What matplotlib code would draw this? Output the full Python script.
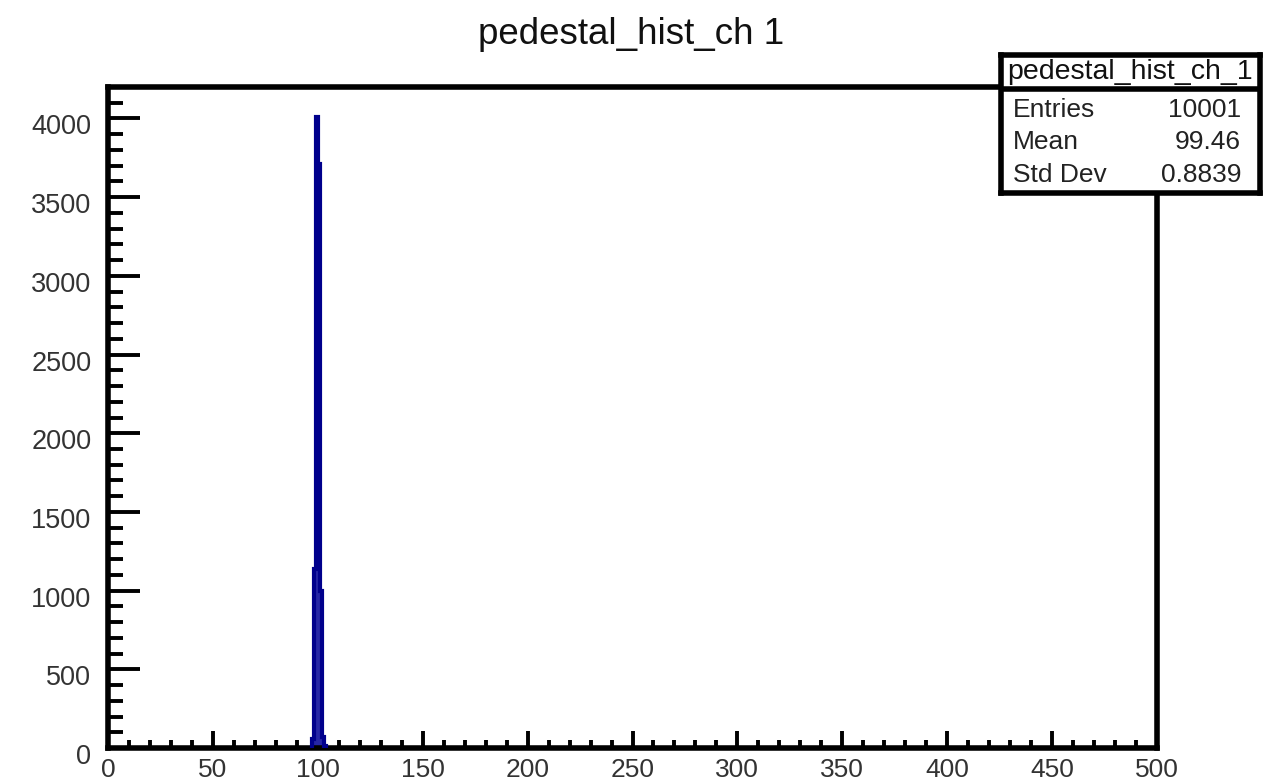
import numpy as np
import matplotlib
matplotlib.use("Agg")
import matplotlib.pyplot as plt
import matplotlib.transforms as mtransforms
from matplotlib.ticker import MultipleLocator

# ---- data ----
bin_low = np.array([97, 98, 99, 100, 101, 102, 103])
counts = np.array([60, 1140, 4010, 3710, 1000, 70, 11])
bin_width = 1
title = "pedestal_hist_ch 1"
stats_name = "pedestal_hist_ch_1"
stats_labels = ["Entries", "Mean", "Std Dev"]
stats_values = ["10001", "99.46", "0.8839"]
x_range = (0, 500)
y_max = 4200

plt.rcParams['font.family'] = ['Liberation Sans', 'DejaVu Sans']

W, H = 1266, 783
fig = plt.figure(figsize=(W / 100, H / 100), dpi=100)

def px_rect(l, t, r, b):
    return [l / W, 1 - b / H, (r - l) / W, (b - t) / H]

ax = fig.add_axes(px_rect(108, 87, 1157, 748))
edges = np.append(bin_low, bin_low[-1] + bin_width)
ax.stairs(counts, edges, fill=True, color='#2626a6', zorder=2)
ax.stairs(counts, edges, fill=False, color='#00008c', linewidth=3.0, zorder=3)

ax.set_xlim(*x_range)
ax.set_ylim(0, y_max)
ax.xaxis.set_major_locator(MultipleLocator(50))
ax.xaxis.set_minor_locator(MultipleLocator(10))
ax.yaxis.set_major_locator(MultipleLocator(500))
ax.yaxis.set_minor_locator(MultipleLocator(100))
ax.tick_params(axis='x', which='major', direction='in', length=12, width=2.8,
               labelsize=19, pad=7, colors='black', labelcolor='#333333')
ax.tick_params(axis='x', which='minor', direction='in', length=6, width=2.8)
ax.tick_params(axis='y', which='major', direction='in', length=23, width=2.8,
               labelsize=19.5, pad=12, labelcolor='#333333')
ax.tick_params(axis='y', which='minor', direction='in', length=11, width=2.8)
for s in ax.spines.values():
    s.set_linewidth(4)
    s.set_color('black')

shift = mtransforms.ScaledTranslation(0, -6 / 100, fig.dpi_scale_trans)
for lab in ax.get_yticklabels():
    lab.set_transform(lab.get_transform() + shift)

fig.text(631 / W, 1 - 35 / H, title, ha='center', va='center', fontsize=26.5, color='#111111')

# stats box
sax = fig.add_axes(px_rect(1001, 55, 1260, 193), zorder=5)
sax.set_xlim(0, 1)
sax.set_ylim(0, 1)
sax.set_xticks([])
sax.set_yticks([])
sax.set_facecolor('white')
for s in sax.spines.values():
    s.set_linewidth(4)
    s.set_color('black')
def fy(y):
    return (193 - y) / (193 - 55)
sax.axhline(fy(89), color='black', linewidth=4)
sax.text(0.5, fy(72), stats_name, ha='center', va='center', fontsize=20.5,
         color='#111111', clip_on=True)
rows_y = [110, 142, 175]
for lab, val, y in zip(stats_labels, stats_values, rows_y):
    sax.text((1013 - 1001) / 259, fy(y), lab, ha='left', va='center', fontsize=19, color='#222222')
    sax.text((1241 - 1001) / 259, fy(y), val, ha='right', va='center', fontsize=19, color='#222222')

fig.savefig("out.png", dpi=100)
